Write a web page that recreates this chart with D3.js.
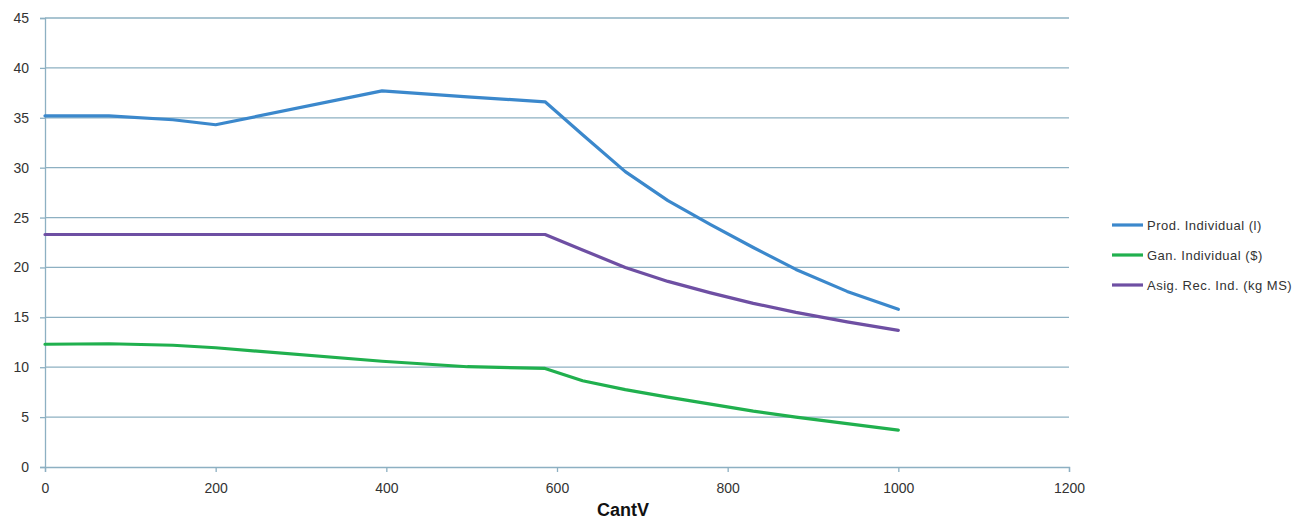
<!DOCTYPE html>
<html><head><meta charset="utf-8">
<script src="https://cdn.jsdelivr.net/npm/d3@7"></script>
<style>body{margin:0;background:#fff}svg{display:block}</style>
</head><body>
<svg id="c" width="1306" height="520"></svg>
<script>
const xValues = [0, 75, 150, 200, 395, 495, 586, 630, 680, 730, 780, 830, 880, 940, 1000];
const prodIndividual = [35.2, 35.2, 34.8, 34.3, 37.7, 37.1, 36.6, 33.3, 29.6, 26.7, 24.3, 22.0, 19.8, 17.6, 15.8];
const ganIndividual = [12.3, 12.35, 12.2, 11.95, 10.6, 10.05, 9.88, 8.65, 7.75, 7.0, 6.3, 5.6, 5.0, 4.35, 3.7];
const asigRecInd = [23.3, 23.3, 23.3, 23.3, 23.3, 23.3, 23.3, 21.75, 20.0, 18.6, 17.45, 16.4, 15.5, 14.55, 13.7];
const seriesNames = ["Prod. Individual (l)", "Gan. Individual ($)", "Asig. Rec. Ind. (kg MS)"];
const seriesColors = ["#3b88cc", "#20b04e", "#6e4fa3"];
const xTicks = [0, 200, 400, 600, 800, 1000, 1200];
const yTicks = [0, 5, 10, 15, 20, 25, 30, 35, 40, 45];
const xTitle = "CantV";

const svg = d3.select("#c");
const L = 45, R = 1069, T = 18, B = 467;
const x = d3.scaleLinear().domain([0, 1200]).range([L, R]);
const y = d3.scaleLinear().domain([0, 45]).range([B, T]);
const axisColor = "#8db0c2";
const font = "'Liberation Sans', Arial, sans-serif";

// gridlines
svg.append("g").selectAll("line").data(yTicks.filter(d => d > 0)).join("line")
  .attr("x1", L).attr("x2", R).attr("y1", d => y(d)).attr("y2", d => y(d))
  .attr("stroke", axisColor).attr("stroke-width", 1.3);

// y axis
const ya = svg.append("g").attr("transform", `translate(${L},0)`)
  .call(d3.axisLeft(y).tickValues(yTicks).tickFormat(d3.format("d")).tickSize(5).tickPadding(11));
ya.select(".domain").attr("stroke", axisColor).attr("stroke-width", 1.3);
ya.selectAll(".tick line").attr("stroke", axisColor).attr("stroke-width", 1.3);
ya.selectAll("text").attr("font-family", font).attr("font-size", 14).attr("fill", "#333");

// x axis
const xa = svg.append("g").attr("transform", `translate(0,${B})`)
  .call(d3.axisBottom(x).tickValues(xTicks).tickFormat(d3.format("d")).tickSize(5).tickPadding(11));
xa.select(".domain").attr("stroke", axisColor).attr("stroke-width", 1.3);
xa.selectAll(".tick line").attr("stroke", axisColor).attr("stroke-width", 1.3);
xa.selectAll("text").attr("font-family", font).attr("font-size", 14).attr("fill", "#333");

svg.append("text").attr("x", 623).attr("y", 516).attr("text-anchor", "middle")
  .attr("font-family", font).attr("font-weight", "bold").attr("font-size", 18).attr("fill", "#111")
  .text(xTitle);

const allSeries = [prodIndividual, ganIndividual, asigRecInd];
const line = d3.line().x((d, i) => x(xValues[i])).y(d => y(d));
allSeries.forEach((s, k) => {
  svg.append("path").datum(s).attr("d", line).attr("fill", "none")
    .attr("stroke", seriesColors[k]).attr("stroke-width", 3.2)
    .attr("stroke-linejoin", "round").attr("stroke-linecap", "round");
});

// legend
const lg = svg.append("g");
seriesNames.forEach((n, k) => {
  const yy = 225 + k * 30;
  lg.append("line").attr("x1", 1112).attr("x2", 1143).attr("y1", yy).attr("y2", yy)
    .attr("stroke", seriesColors[k]).attr("stroke-width", 3.2);
  lg.append("text").attr("x", 1147).attr("y", yy + 4.5).attr("font-family", font)
    .attr("font-size", 13).attr("letter-spacing", 0.5).attr("fill", "#333").text(n);
});
</script>
</body></html>
